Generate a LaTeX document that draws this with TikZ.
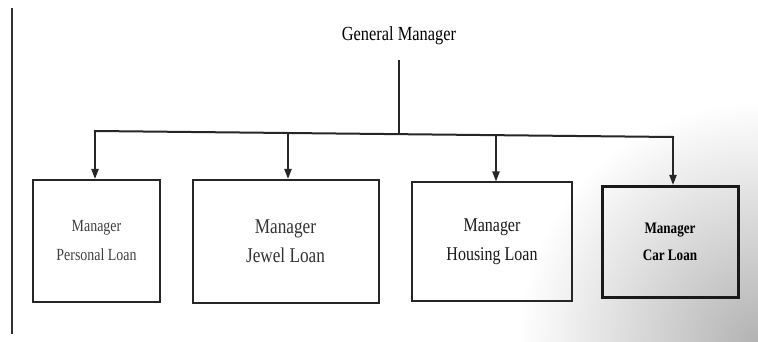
\documentclass[tikz,border=0pt]{standalone}
\usepackage{fontspec}
\setmainfont{Liberation Serif}
\newfontfamily\narrowserif[FakeStretch=0.82]{Liberation Serif}
\usetikzlibrary{arrows.meta}

\tikzset{
  link/.style={line width=2pt, draw=black!85},
  drop/.style={link, -{Triangle[length=10pt, width=7pt]}},
  unit/.style={draw=black!85, line width=2pt, align=center, inner sep=0pt},
}

\begin{document}
\begin{tikzpicture}[x=1pt, y=-1pt]
  \useasboundingbox (0,0) rectangle (758,342);

  % scanned-page tint in the lower right corner
  \begin{scope}
    \clip (0,0) rectangle (758,342);
    \shade[inner color=gray!60, outer color=white] (758,342) circle (240);
  \end{scope}

  % margin rule
  \draw[line width=2pt, black!80] (12,8) -- (12,334);

  % head of the chart
  \node[font=\narrowserif\fontsize{20}{22}\selectfont, outer ysep=12pt] (gm) at (399,36) {General Manager};

  % department managers
  \node[unit, minimum width=127pt, minimum height=122pt, text=black!75,
        font=\narrowserif\fontsize{17}{29}\selectfont] (b1) at (96.5,241) {Manager\\Personal Loan};
  \node[unit, minimum width=186pt, minimum height=123pt, text=black!80,
        font=\narrowserif\fontsize{21}{29}\selectfont] (b2) at (285.5,241.5) {Manager\\Jewel Loan};
  \node[unit, minimum width=160pt, minimum height=118pt, text=black!90,
        font=\narrowserif\fontsize{19.5}{29}\selectfont] (b3) at (492,241.5) {Manager\\Housing Loan};
  \node[unit, line width=3pt, draw=black!90, minimum width=136pt, minimum height=111pt,
        font=\narrowserif\bfseries\fontsize{16}{27}\selectfont] (b4) at (670,242) {Manager\\Car Loan};

  % distribution bar
  \coordinate (j1) at (95,131);
  \coordinate (j2) at (288,133);
  \coordinate (hub) at (399,134.1);
  \coordinate (j3) at (496,135.2);
  \coordinate (j4) at (673,137);

  \draw[link] (gm.south) -- (hub);
  \draw[link, line cap=rect] (j1) -- (j4);
  \draw[drop] (j1) -- (j1 |- b1.north);
  \draw[drop] (j2) -- (j2 |- b2.north);
  \draw[drop] (j3) -- (j3 |- b3.north);
  \draw[drop] (j4) -- (j4 |- b4.north);
\end{tikzpicture}
\end{document}
